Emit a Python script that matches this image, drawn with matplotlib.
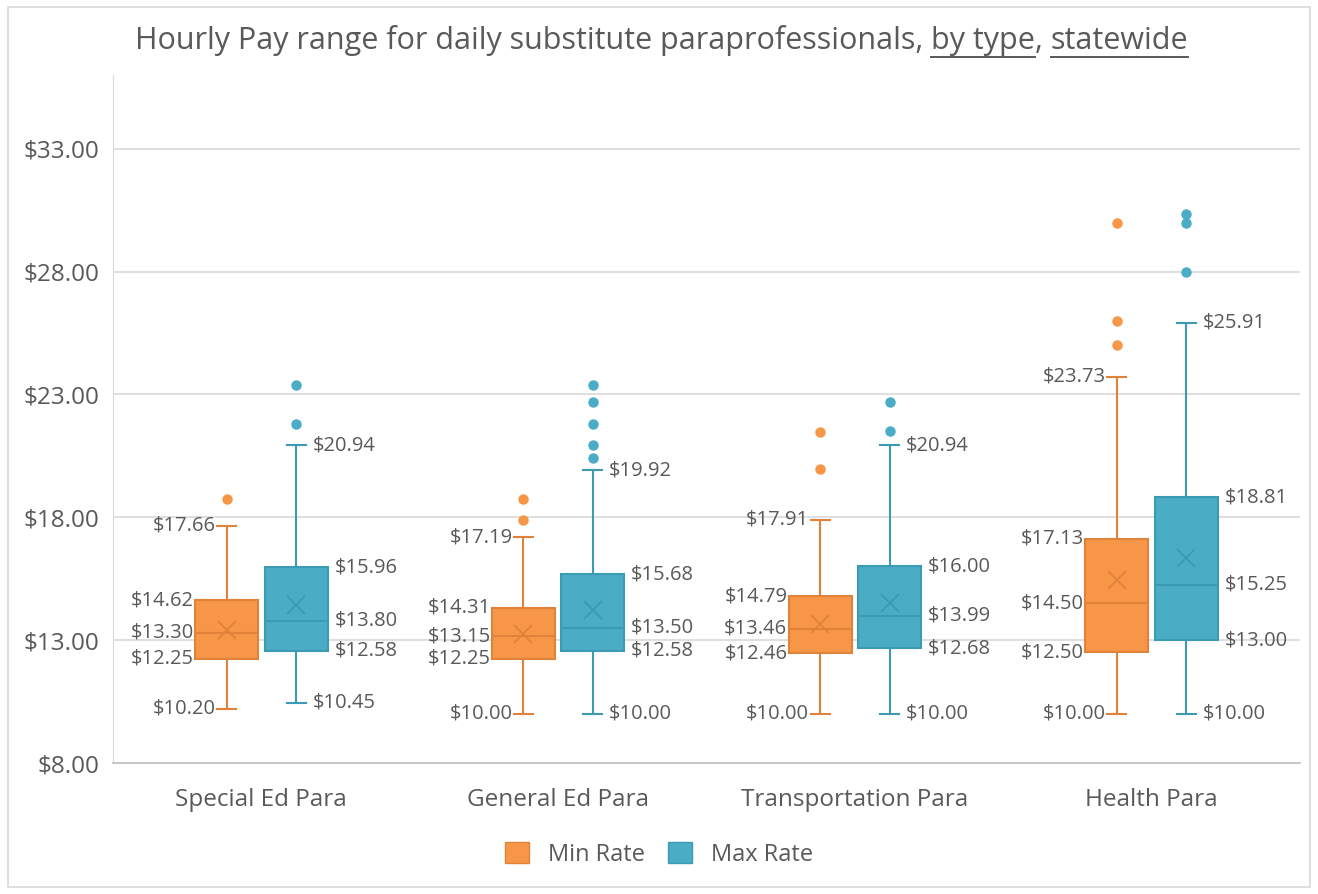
import matplotlib.pyplot as plt
from matplotlib.patches import Patch, Rectangle
from matplotlib.lines import Line2D
from matplotlib.ticker import FuncFormatter

plt.rcParams['font.family'] = ['Open Sans', 'DejaVu Sans']

## data
categories = ['Special Ed Para', 'General Ed Para', 'Transportation Para', 'Health Para']

min_whislo = [10.20, 10.00, 10.00, 10.00]
min_q1 = [12.25, 12.25, 12.46, 12.50]
min_med = [13.30, 13.15, 13.46, 14.50]
min_q3 = [14.62, 14.31, 14.79, 17.13]
min_whishi = [17.66, 17.19, 17.91, 23.73]
min_mean = [13.43, 13.27, 13.65, 15.46]
min_fliers = [[18.75], [18.75, 17.88], [21.48, 19.98], [30.0, 26.0, 25.0]]

max_whislo = [10.45, 10.00, 10.00, 10.00]
max_q1 = [12.58, 12.58, 12.68, 13.00]
max_med = [13.80, 13.50, 13.99, 15.25]
max_q3 = [15.96, 15.68, 16.00, 18.81]
max_whishi = [20.94, 19.92, 20.94, 25.91]
max_mean = [14.42, 14.22, 14.52, 16.34]
max_fliers = [[23.4, 21.78], [23.4, 22.7, 21.79, 20.93, 20.4], [22.7, 21.5], [30.33, 30.0, 28.0]]

series_names = ['Min Rate', 'Max Rate']
title_parts = ['Hourly Pay range for daily substitute paraprofessionals, ', 'by type', ', ', 'statewide']
title_underlined = [False, True, False, True]

## styling
textColor = '#595959'
fills = ['#F79646', '#4BACC6']
edges = ['#E0823A', '#3C9AB3']
boxW = 0.212
offset = 0.117
capW = 0.064


def makeStats(lo, q1, med, q3, hi, mean, fliers):
	return [dict(whislo=a, q1=b, med=c, q3=d, whishi=e, mean=f, fliers=g)
			for a, b, c, d, e, f, g in zip(lo, q1, med, q3, hi, mean, fliers)]


fig = plt.figure(figsize=(13.18, 8.94), dpi=100)
ax = fig.add_axes([0.0857, 0.1465, 0.9006, 0.7695])

allStats = [
	makeStats(min_whislo, min_q1, min_med, min_q3, min_whishi, min_mean, min_fliers),
	makeStats(max_whislo, max_q1, max_med, max_q3, max_whishi, max_mean, max_fliers),
]

centers = list(range(1, len(categories) + 1))
for s, stats in enumerate(allStats):
	sign = -1 if s == 0 else 1
	pos = [c + sign * offset for c in centers]
	ec = edges[s]
	ax.bxp(stats, positions=pos, widths=boxW, capwidths=capW, patch_artist=True,
		   showmeans=True, manage_ticks=False,
		   boxprops=dict(facecolor=fills[s], edgecolor=ec, linewidth=1.5),
		   medianprops=dict(color=ec, linewidth=1.5),
		   whiskerprops=dict(color=ec, linewidth=1.5),
		   capprops=dict(color=ec, linewidth=1.5),
		   meanprops=dict(marker='x', markeredgecolor=ec, markersize=13, markeredgewidth=1.3),
		   flierprops=dict(marker='o', markerfacecolor=fills[s], markeredgecolor=fills[s], markersize=6.5),
		   zorder=3)

	## data labels
	for p, st in zip(pos, stats):
		for key in ['q1', 'med', 'q3', 'whislo', 'whishi']:
			half = capW / 2 if key.startswith('whis') else boxW / 2
			x = p + sign * half
			ax.annotate('$%.2f' % st[key], xy=(x, st[key]),
						xytext=(sign * (5 if s == 1 else 1), 0), textcoords='offset points',
						ha='right' if s == 0 else 'left', va='center',
						fontsize=14.5, color=textColor, zorder=4)

ax.set_xlim(0.5, len(categories) + 0.5)
ax.set_ylim(8, 36)
ax.set_yticks(range(8, 34, 5))
ax.yaxis.set_major_formatter(FuncFormatter(lambda v, _: '$%.2f' % v))
ax.set_xticks(centers)
ax.set_xticklabels(categories)
ax.tick_params(axis='both', length=0, labelcolor=textColor)
ax.tick_params(axis='y', pad=10, labelsize=17.5)
ax.tick_params(axis='x', pad=18, labelsize=17.5)
ax.grid(axis='y', color='#D9D9D9', linewidth=1.2, zorder=0)
ax.set_axisbelow(True)
for side in ['top', 'right']:
	ax.spines[side].set_visible(False)
ax.spines['left'].set_color('#D9D9D9')
ax.spines['bottom'].set_color('#BFBFBF')
ax.spines['bottom'].set_linewidth(1.2)

## title, pieces laid out left to right so some can be underlined
renderer = fig.canvas.get_renderer()
figW = fig.bbox.width
pieces = [fig.text(0, 0.945, t, ha='left', va='baseline', fontsize=22, color=textColor) for t in title_parts]
widths = [p.get_window_extent(renderer).width / figW for p in pieces]
x = 0.502 - sum(widths) / 2
for p, w, under in zip(pieces, widths, title_underlined):
	p.set_x(x)
	if under:
		fig.add_artist(Line2D([x, x + w], [0.936, 0.936], transform=fig.transFigure,
							  color=textColor, linewidth=1.4))
	x += w

## legend
handles = [Patch(facecolor=fills[i], edgecolor=edges[i], label=series_names[i]) for i in range(2)]
fig.legend(handles=handles, loc='center', bbox_to_anchor=(0.5, 0.044), ncol=2, frameon=False,
		   fontsize=17, labelcolor=textColor, handlelength=1.0, handleheight=1.0,
		   columnspacing=1.0, handletextpad=0.8)

## chart border
fig.patches.append(Rectangle((0.006, 0.008), 0.988, 0.984, transform=fig.transFigure,
							 fill=False, edgecolor='#D9D9D9', linewidth=1.2))

fig.savefig('out.png', dpi=100)
